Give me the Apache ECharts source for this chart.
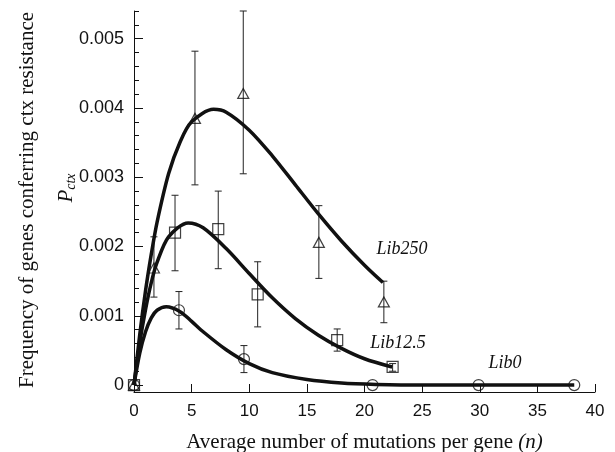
<!DOCTYPE html>
<html>
<head>
<meta charset="utf-8">
<script src="https://cdn.jsdelivr.net/npm/echarts@6/dist/echarts.min.js"></script>
<style>
  html, body {margin: 0; padding: 0; background: #fff;}
  #main {width: 615px; height: 452px;}
</style>
</head>
<body>
<div id="main"></div>
<script>
// measured points with error bars: n, P, low, high
const lib250N = [0, 1.73, 5.29, 9.48, 16.04, 21.68];
const lib250P = [0, 0.00169, 0.00385, 0.00421, 0.00206, 0.00120];
const lib250Lo = [0, 0.00127, 0.00289, 0.00305, 0.00154, 0.00090];
const lib250Hi = [0, 0.00214, 0.00482, 0.00540, 0.00259, 0.00150];

const lib12N = [0, 3.56, 7.31, 10.73, 17.63, 22.44];
const lib12P = [0, 0.00220, 0.00225, 0.00131, 0.00065, 0.000264];
const lib12Lo = [0, 0.00165, 0.00168, 0.00084, 0.00049, 0.00020];
const lib12Hi = [0, 0.00274, 0.00280, 0.00178, 0.00081, 0.00031];

const lib0N = [0, 3.9, 9.54, 20.7, 29.9, 38.2];
const lib0P = [0, 0.00108, 0.000375, 0, 0, 0];
const lib0Lo = [0, 0.00081, 0.00018, 0, 0, 0];
const lib0Hi = [0, 0.00135, 0.00057, 0, 0, 0];

// fitted curves
const curve250N = [0, 0.5, 1, 1.5, 2, 3, 4, 5, 6.9, 8, 10, 12, 14, 16, 18, 20, 21.6];
const curve250P = [0, 0.00073, 0.00136, 0.00189, 0.00235, 0.00305, 0.00351, 0.00380, 0.00398, 0.00394, 0.00368, 0.00331, 0.00289, 0.00247, 0.00208, 0.00173, 0.00148];

const curve12N = [0, 0.5, 1, 1.5, 2, 3, 4.7, 6, 8, 10, 12, 14, 16, 18, 20, 22.4];
const curve12P = [0, 0.00061, 0.00109, 0.00148, 0.00177, 0.00214, 0.00234, 0.00227, 0.00197, 0.00161, 0.00126, 0.00096, 0.00072, 0.00053, 0.00038, 0.00026];

const curve0N = [0, 0.5, 1, 1.5, 2, 2.8, 4, 5, 6, 8, 10, 12, 15, 18, 21, 25, 30, 38.2];
const curve0P = [0, 0.00046, 0.00077, 0.00097, 0.00108, 0.00113, 0.00106, 0.00092, 0.00077, 0.00051, 0.00031, 0.00018, 0.00008, 0.00003, 0.00001, 0, 0, 0];

const yLabelValues = [0, 0.001, 0.002, 0.003, 0.004, 0.005];
const yMinorValues = [0.0002, 0.0004, 0.0006, 0.0008, 0.0012, 0.0014, 0.0016, 0.0018,
  0.0022, 0.0024, 0.0026, 0.0028, 0.0032, 0.0034, 0.0036, 0.0038,
  0.0042, 0.0044, 0.0046, 0.0048, 0.0052, 0.0054];

const zip = (a, b) => a.map((v, i) => [v, b[i]]);
const zip3 = (a, b, c) => a.map((v, i) => [v, b[i], c[i]]);

const serif = 'Liberation Serif';
const sans = 'Liberation Sans';

function errorBars(params, api) {
  const x = api.value(0);
  const lo = api.coord([x, api.value(1)]);
  const hi = api.coord([x, api.value(2)]);
  if (Math.abs(lo[1] - hi[1]) < 1) return null;
  const w = 3.5;
  const st = {stroke: '#222', lineWidth: 1};
  return {
    type: 'group',
    children: [
      {type: 'line', shape: {x1: lo[0], y1: lo[1], x2: hi[0], y2: hi[1]}, style: st},
      {type: 'line', shape: {x1: lo[0] - w, y1: lo[1], x2: lo[0] + w, y2: lo[1]}, style: st},
      {type: 'line', shape: {x1: hi[0] - w, y1: hi[1], x2: hi[0] + w, y2: hi[1]}, style: st}
    ]
  };
}

const curveStyle = {color: '#111', width: 3.5};
const markerStyle = {color: 'rgba(0,0,0,0)', borderColor: '#111', borderWidth: 1.2};

const chart = echarts.init(document.getElementById('main'));
chart.setOption({
  animation: false,
  grid: {left: 134, right: 20, top: 11, bottom: 60, outerBoundsMode: 'none'},
  xAxis: {
    type: 'value',
    min: 0,
    max: 40,
    interval: 5,
    splitLine: {show: false},
    axisLine: {onZero: false, lineStyle: {color: '#111', width: 1}},
    axisTick: {inside: true, length: 8, lineStyle: {color: '#111'}},
    axisLabel: {color: '#111', fontFamily: sans, fontSize: 17, margin: 11},
    name: '{a|Average number of mutations per gene }{b|(n)}',
    nameLocation: 'middle',
    nameGap: 40,
    nameTextStyle: {
      rich: {
        a: {fontFamily: serif, fontSize: 21, color: '#111'},
        b: {fontFamily: serif, fontSize: 21, fontStyle: 'italic', color: '#111'}
      }
    }
  },
  yAxis: [
    {
      type: 'value',
      min: -0.0001,
      max: 0.0054,
      splitLine: {show: false},
      axisLine: {lineStyle: {color: '#111', width: 1}},
      axisTick: {inside: true, length: 9, customValues: yLabelValues, lineStyle: {color: '#111'}},
      axisLabel: {
        customValues: yLabelValues,
        color: '#111', fontFamily: sans, fontSize: 18, margin: 10,
        formatter: v => (v === 0 ? '0' : v.toFixed(3))
      }
    },
    {
      type: 'value',
      min: -0.0001,
      max: 0.0054,
      position: 'left',
      splitLine: {show: false},
      axisLine: {show: false},
      axisLabel: {show: false},
      axisTick: {inside: true, length: 5, customValues: yMinorValues, lineStyle: {color: '#111'}}
    }
  ],
  graphic: [
    {
      type: 'text', x: 27, y: 200, rotation: Math.PI / 2,
      style: {text: 'Frequency of genes conferring ctx resistance', fontFamily: serif, fontSize: 21,
        fill: '#111', align: 'center', verticalAlign: 'middle'}
    },
    {
      type: 'text', x: 66, y: 188, rotation: Math.PI / 2,
      style: {
        text: '{p|P}{s|ctx}', align: 'center', verticalAlign: 'middle',
        rich: {
          p: {fontFamily: serif, fontSize: 21, fontStyle: 'italic', fill: '#111'},
          s: {fontFamily: serif, fontSize: 14, fontStyle: 'italic', fill: '#111', padding: [10, 0, 0, 0]}
        }
      }
    },
    {type: 'text', x: 402, y: 249, style: {text: 'Lib250', fontFamily: serif, fontSize: 18, fontStyle: 'italic', fill: '#111', align: 'center', verticalAlign: 'middle'}},
    {type: 'text', x: 398, y: 343, style: {text: 'Lib12.5', fontFamily: serif, fontSize: 18, fontStyle: 'italic', fill: '#111', align: 'center', verticalAlign: 'middle'}},
    {type: 'text', x: 505, y: 363, style: {text: 'Lib0', fontFamily: serif, fontSize: 18, fontStyle: 'italic', fill: '#111', align: 'center', verticalAlign: 'middle'}}
  ],
  series: [
    {type: 'line', data: zip(curve250N, curve250P), smooth: 0.3, showSymbol: false, lineStyle: curveStyle},
    {type: 'line', data: zip(curve12N, curve12P), smooth: 0.3, showSymbol: false, lineStyle: curveStyle},
    {type: 'line', data: zip(curve0N, curve0P), smooth: 0.3, showSymbol: false, lineStyle: curveStyle},
    {type: 'custom', renderItem: errorBars, encode: {x: 0, y: [1, 2]}, data: zip3(lib250N, lib250Lo, lib250Hi)},
    {type: 'custom', renderItem: errorBars, encode: {x: 0, y: [1, 2]}, data: zip3(lib12N, lib12Lo, lib12Hi)},
    {type: 'custom', renderItem: errorBars, encode: {x: 0, y: [1, 2]}, data: zip3(lib0N, lib0Lo, lib0Hi)},
    {type: 'scatter', symbol: 'triangle', symbolSize: [11, 10], data: zip(lib250N, lib250P), itemStyle: markerStyle},
    {type: 'scatter', symbol: 'rect', symbolSize: 11, data: zip(lib12N, lib12P), itemStyle: markerStyle},
    {type: 'scatter', symbol: 'circle', symbolSize: 11, data: zip(lib0N, lib0P), itemStyle: markerStyle}
  ]
});
</script>
</body>
</html>
